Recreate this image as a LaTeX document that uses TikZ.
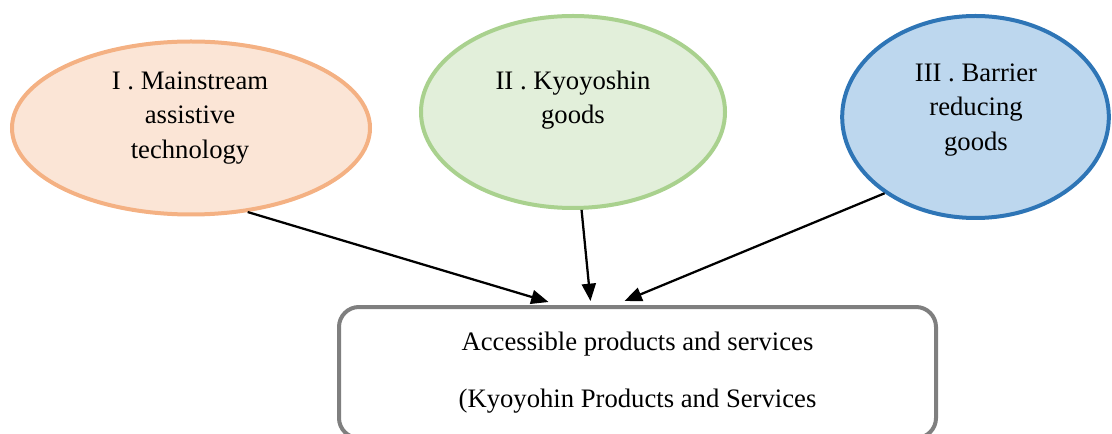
\documentclass[tikz,border=0pt]{standalone}
\usepackage{fontspec}
\setmainfont{Liberation Serif}
\usetikzlibrary{shapes.geometric,arrows.meta,calc}

\definecolor{peachfill}{HTML}{FBE5D6}
\definecolor{peachline}{HTML}{F4B183}
\definecolor{greenfill}{HTML}{E2EFDA}
\definecolor{greenline}{HTML}{A9D18E}
\definecolor{bluefill}{HTML}{BDD7EE}
\definecolor{blueline}{HTML}{2E75B6}
\definecolor{boxline}{HTML}{7F7F7F}

\tikzset{
  goal/.style={draw,ellipse,line width=3pt,inner sep=0pt},
  txt/.style={align=center,font=\fontsize{20}{26}\selectfont},
  result/.style={draw=boxline,line width=3pt,rounded corners=15pt,
    minimum width=447.75pt,minimum height=98.25pt,align=center,
    font=\fontsize{20}{23}\selectfont},
  arr/.style={line width=1.7pt,-{Triangle[length=13pt,width=10.5pt]}}
}

\begin{document}
\begin{tikzpicture}[x=0.75pt,y=-0.75pt]
\useasboundingbox (0,0) rectangle (1112,434);
\clip (0,0) rectangle (1112,434);

% the three kinds of goods
\path (191,128) node[goal,draw=peachline,fill=peachfill,minimum width=268.5pt,minimum height=129.75pt](e1){};
\path (573,112) node[goal,draw=greenline,fill=greenfill,minimum width=228pt,minimum height=144pt](e2){};
\path (975.5,117) node[goal,draw=blueline,fill=bluefill,minimum width=200pt,minimum height=151.5pt](e3){};

\path (190,118) node[txt](t1){I . Mainstream\\assistive\\technology};
\path (573,100) node[txt](t2){II . Kyoyoshin\\goods};
\path (976,110) node[txt](t3){III . Barrier\\reducing\\goods};

% what they lead to
\path (637.5,372.5) node[result](box){Accessible products and services\\[20pt](Kyoyohin Products and Services};

\draw[arr] (e1.-56) -- ($(box.north)+(-89,-3)$);
\draw[arr] (e2.-85) -- ($(box.north)+(-47,-4)$);
\draw[arr] (e3.-140) -- ($(box.north)+(-13,-4)$);

\end{tikzpicture}
\end{document}
